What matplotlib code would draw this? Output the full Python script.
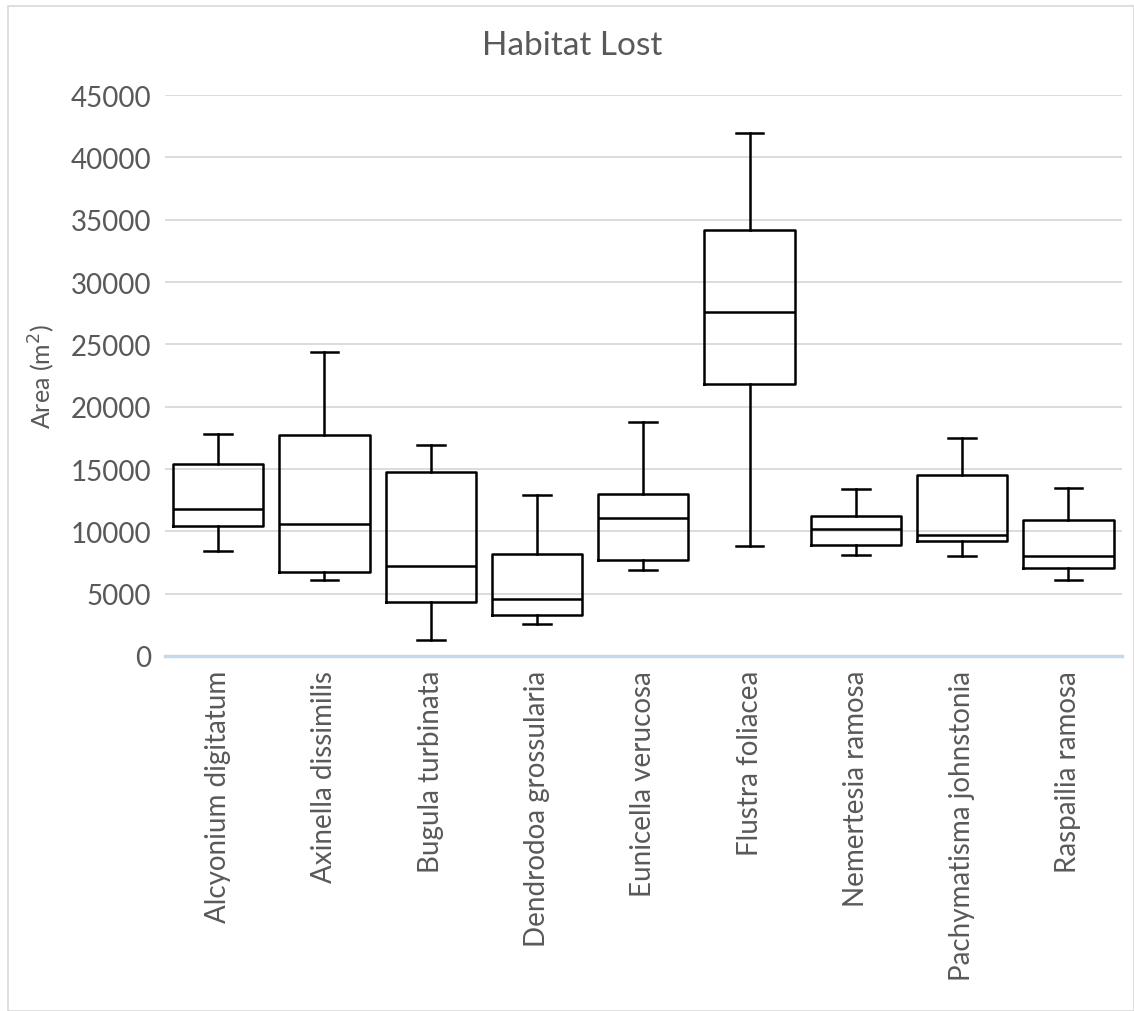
import numpy as np
import matplotlib.pyplot as plt
from matplotlib.patches import Rectangle

species = ["Alcyonium digitatum", "Axinella dissimilis", "Bugula turbinata",
           "Dendrodoa grossularia", "Eunicella verucosa", "Flustra foliacea",
           "Nemertesia ramosa", "Pachymatisma johnstonia", "Raspailia ramosa"]
whislo = [8400, 6100, 1300, 2600, 6900, 8800, 8100, 8000, 6100]
q1 = [10400, 6700, 4300, 3300, 7700, 21800, 8900, 9200, 7100]
med = [11800, 10600, 7200, 4600, 11100, 27600, 10200, 9700, 8000]
q3 = [15400, 17700, 14800, 8200, 13000, 34200, 11200, 14500, 10900]
whishi = [17800, 24400, 16900, 12900, 18800, 42000, 13400, 17500, 13500]

plt.rcParams['font.family'] = ['Lato', 'DejaVu Sans']
grey = '#595959'

stats = []
for i in range(len(species)):
    stats.append(dict(label=species[i], whislo=whislo[i], q1=q1[i], med=med[i],
                      q3=q3[i], whishi=whishi[i], fliers=[]))

fig = plt.figure(figsize=(11.34, 10.12), dpi=100)
ax = fig.add_axes([0.1455, 0.3508, 0.8435, 0.5542])

line = dict(color='black', lw=1.8)
ax.bxp(stats, positions=np.arange(len(species)), widths=0.85,
       boxprops=line, whiskerprops=line, capprops=line, medianprops=line,
       showfliers=False, capwidths=0.26)

ax.set_xlim(-0.5, len(species) - 0.5)
ax.set_ylim(0, 45000)
ax.set_yticks(np.arange(0, 45001, 5000))
ax.yaxis.grid(True, color='#d9d9d9', lw=1.3)
ax.set_axisbelow(True)
for s in ['top', 'right', 'left']:
    ax.spines[s].set_visible(False)
ax.spines['bottom'].set_color('#c5d9ed')
ax.spines['bottom'].set_linewidth(2.5)
ax.tick_params(axis='both', length=0, labelsize=20, labelcolor=grey, pad=10)
ax.set_xticks(np.arange(len(species)))
ax.set_xticklabels(species, rotation=90)
ax.set_ylabel('Area (m$^2$)', fontsize=18, color=grey, labelpad=10)
fig.text(0.505, 0.955, 'Habitat Lost', fontsize=24, color=grey, ha='center', va='center')

fig.patches.append(Rectangle((0.007, 0.0), 0.993, 0.993, transform=fig.transFigure,
                             fill=False, edgecolor='#d9d9d9', lw=1.2))

plt.savefig('out.png', dpi=100)
plt.close()
